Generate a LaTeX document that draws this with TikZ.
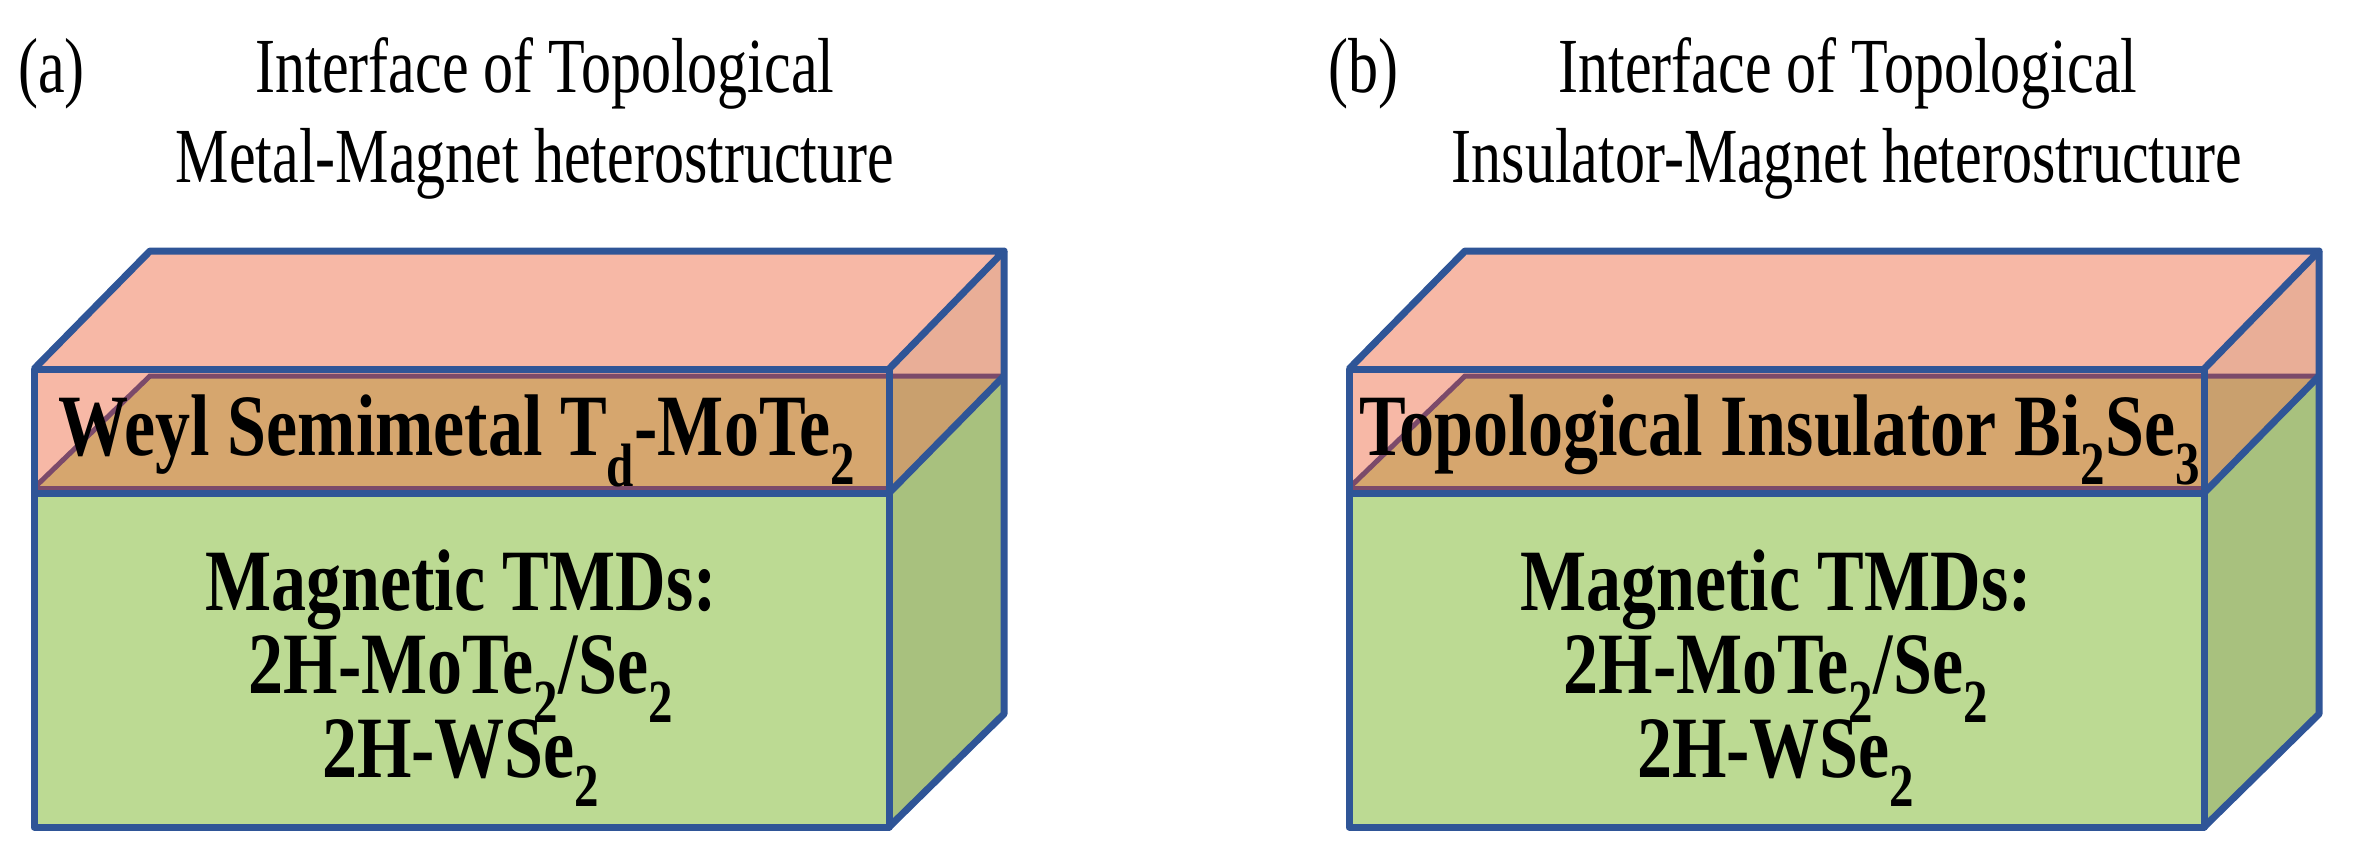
\documentclass[tikz,border=0pt]{standalone}
\usepackage{fontspec}
\setmainfont{Liberation Serif}
\definecolor{bl}{HTML}{2F5597}
\definecolor{pk}{HTML}{F7B8A6}
\definecolor{pkr}{HTML}{E9AE97}
\definecolor{br}{HTML}{D6A66E}
\definecolor{brr}{HTML}{C9A06E}
\definecolor{gr}{HTML}{BCDA93}
\definecolor{grr}{HTML}{A8C17E}
\definecolor{pu}{HTML}{7B4A6A}
\tikzset{
  edge/.style={draw=bl,line width=7pt,line join=round},
  iface/.style={draw=pu,line width=5pt},
  title/.style={font=\fontsize{60}{72}\selectfont,anchor=base,yscale=1.3,transform shape,inner sep=0pt},
  lbl/.style={font=\bfseries\fontsize{70}{84}\selectfont,anchor=base,yscale=1.25,transform shape,inner sep=0pt},
}
\newcommand\slab[1]{%
\begin{scope}[xshift=#1]
  \fill[gr] (34,493) rectangle (889,827);
  \fill[grr] (889,493) -- (1004,376) -- (1004,714) -- (889,827) -- cycle;
  \fill[pk] (34,369) rectangle (889,493);
  \fill[pk] (34,369) -- (150,251) -- (1004,251) -- (889,369) -- cycle;
  \fill[pkr] (889,369) -- (1004,251) -- (1004,376) -- (889,493) -- cycle;
  \fill[br] (34,490) -- (150,376) -- (889,376) -- (889,490) -- cycle;
  \fill[brr] (889,376) -- (1004,376) -- (889,493) -- cycle;
  \draw[iface] (34,488) -- (150,376) -- (1004,376);
  \draw[iface] (34,488) -- (889,488);
  \draw[edge] (34,369) rectangle (889,493);
  \draw[edge] (34,369) -- (150,251) -- (1004,251) -- (889,369);
  \draw[edge] (1004,251) -- (1004,714) -- (889,827);
  \draw[edge] (889,493) -- (1004,376);
  \draw[edge] (34,493) rectangle (889,827);
\end{scope}}
\begin{document}
\begin{tikzpicture}[x=1pt,y=-1pt]
\useasboundingbox (0,0) rectangle (2357,848);
\slab{0pt}
\slab{1315pt}
\node[title,anchor=base west] (la) at (18,93) {(a)};
\node[title] (ta1) at (545,93) {Interface of Topological};
\node[title] (ta2) at (535,182) {Metal-Magnet heterostructure};
\node[title,anchor=base west] (lb) at (1328,93) {(b)};
\node[title] (tb1) at (1848,93) {Interface of Topological};
\node[title] (tb2) at (1847,182) {Insulator-Magnet heterostructure};
\node[lbl] (wa) at (457,455) {Weyl Semimetal T\textsubscript{d}-MoTe\textsubscript{2}};
\node[lbl] (wb) at (1780,455) {Topological Insulator Bi\textsubscript{2}Se\textsubscript{3}};
\foreach \cx/\n in {461/a,1776/b}{
  \node[lbl] (m1\n) at (\cx,610) {Magnetic TMDs:};
  \node[lbl] (m2\n) at (\cx,693) {2H-MoTe\textsubscript{2}/Se\textsubscript{2}};
  \node[lbl] (m3\n) at (\cx,777) {2H-WSe\textsubscript{2}};
}
\end{tikzpicture}
\end{document}
